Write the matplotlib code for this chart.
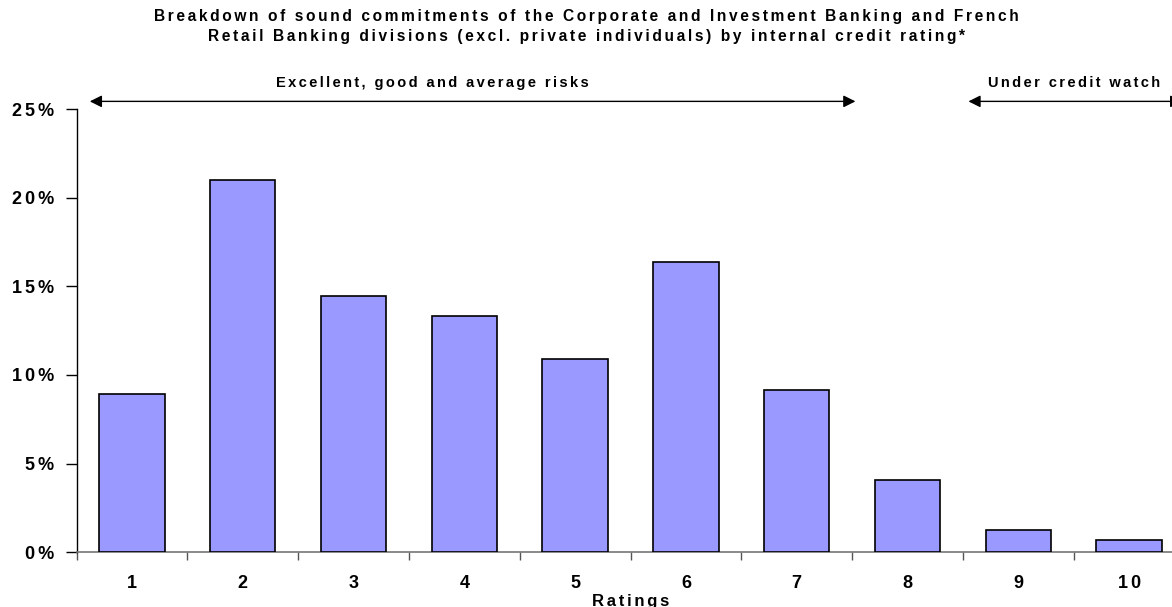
import numpy as np
import matplotlib.pyplot as plt

ratings = ['1', '2', '3', '4', '5', '6', '7', '8', '9', '10']
shares = [8.9, 21.0, 14.45, 13.3, 10.9, 16.35, 9.15, 4.05, 1.28, 0.68]
ytick_vals = [0, 5, 10, 15, 20, 25]
ytick_labels = ['0%', '5%', '10%', '15%', '20%', '25%']

plt.rcParams['font.family'] = ['Liberation Sans', 'DejaVu Sans']
plt.rcParams['font.weight'] = 'bold'


def spaced(s):
    # the original text is letter-spaced; six-per-em spaces between characters
    return '\u2006'.join(s)


fig = plt.figure(figsize=(11.72, 6.07), dpi=100)
# plot area runs past the right edge of the picture, as in the original
ax = fig.add_axes([76.5 / 1172, 1 - 552.3 / 607, 1108 / 1172, (552.3 - 109) / 607])

x = np.arange(len(ratings))
ax.bar(x, shares, width=0.59, color='#9999FF', edgecolor='black', linewidth=1.2, zorder=3)

ax.set_xlim(-0.5, len(ratings) - 0.5)
ax.set_ylim(0, 25)

ax.set_yticks(ytick_vals)
ax.set_yticklabels([spaced(t) for t in ytick_labels], fontsize=13, fontweight='bold')
ax.tick_params(axis='y', direction='out', length=8, width=1, pad=8)

# ticks between categories, labels at category centres
ax.set_xticks(np.arange(-0.5, len(ratings), 1.0))
ax.set_xticklabels([])
ax.set_xticks(x, minor=True)
ax.set_xticklabels([spaced(t) for t in ratings], minor=True, fontsize=13, fontweight='bold')
ax.tick_params(axis='x', which='major', direction='out', length=6, width=1, color='#555555')
ax.tick_params(axis='x', which='minor', length=0, pad=16)

for s in ['top', 'right']:
    ax.spines[s].set_visible(False)
ax.spines['bottom'].set_color('#777777')
ax.spines['bottom'].set_linewidth(1.2)
ax.spines['left'].set_linewidth(1)

ax.set_xlabel(spaced('Ratings'), fontsize=12, fontweight='bold', labelpad=2)

# range arrows above the plot
ay = 25.43
arrow = dict(arrowstyle='<|-|>', color='black', lw=1, mutation_scale=18, shrinkA=0, shrinkB=0)
ax.annotate('', xy=(-0.38, ay), xytext=(6.53, ay), arrowprops=arrow, annotation_clip=False)
ax.annotate('', xy=(7.55, ay), xytext=(9.48, ay), arrowprops=arrow, annotation_clip=False)
ax.text(2.71, 26.45, spaced('Excellent, good and average risks'), ha='center', va='center',
        fontsize=10.5, fontweight='bold')
ax.text(8.5, 26.45, spaced('Under credit watch'), ha='center', va='center',
        fontsize=10.5, fontweight='bold')

fig.text(0.5, 1 - 17 / 607, spaced('Breakdown of sound commitments of the Corporate and Investment Banking and French'),
         ha='center', va='center', fontsize=11.2, fontweight='bold')
fig.text(0.5, 1 - 37 / 607, spaced('Retail Banking divisions (excl. private individuals) by internal credit rating*'),
         ha='center', va='center', fontsize=11.2, fontweight='bold')

fig.savefig('out.png', dpi=100)
